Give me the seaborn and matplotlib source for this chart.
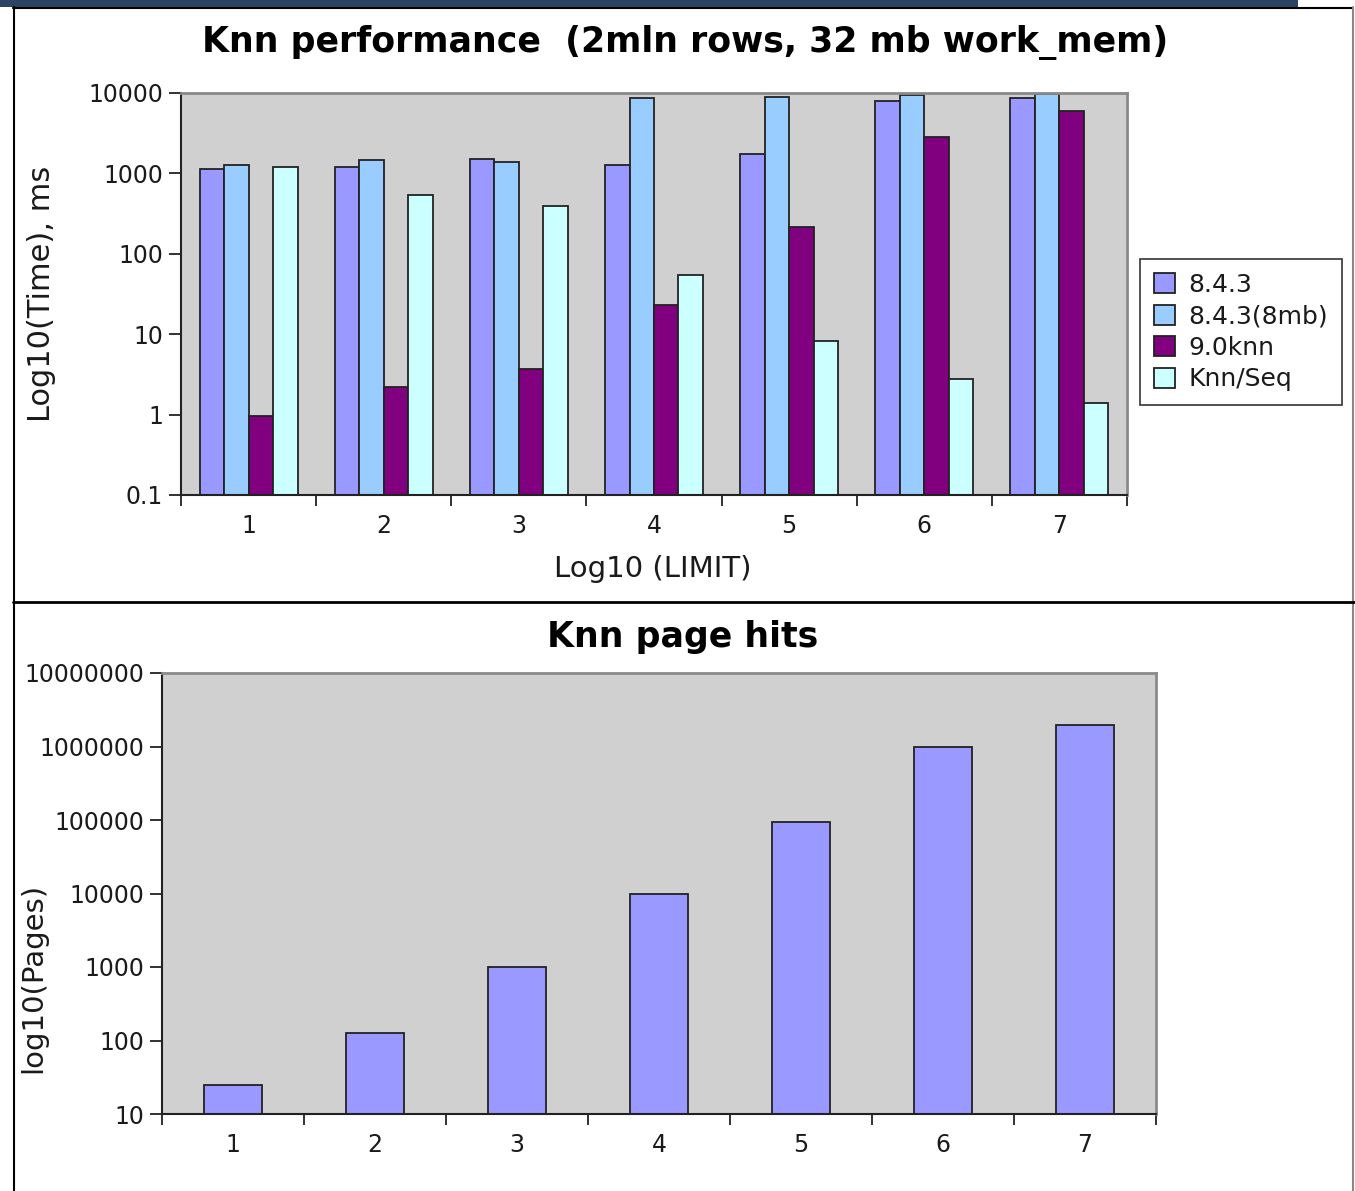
import matplotlib
matplotlib.use("Agg")
import matplotlib.pyplot as plt
import matplotlib.ticker as mticker
from matplotlib.lines import Line2D
from matplotlib.patches import Rectangle
import seaborn as sns
import pandas as pd

# ---------------- data ----------------
limits = ["1", "2", "3", "4", "5", "6", "7"]
v843 = [1135, 1190, 1520, 1290, 1730, 7900, 8600]
v843_8mb = [1280, 1460, 1380, 8700, 9000, 9400, 9800]
v90knn = [0.96, 2.2, 3.7, 23, 214, 2840, 5970]
knn_seq = [1190, 545, 395, 54, 8.2, 2.8, 1.38]
series_names = ["8.4.3", "8.4.3(8mb)", "9.0knn", "Knn/Seq"]
page_hits = [25, 126, 1000, 10000, 95000, 1000000, 1980000]

top_yticks = [0.1, 1, 10, 100, 1000, 10000]
top_ylabels = ["0.1", "1", "10", "100", "1000", "10000"]
bot_yticks = [10, 100, 1000, 10000, 100000, 1000000, 10000000]
bot_ylabels = ["10", "100", "1000", "10000", "100000", "1000000", "10000000"]

colors = ["#9999ff", "#99ccff", "#800080", "#ccffff"]

rows = []
for name, vals in zip(series_names, [v843, v843_8mb, v90knn, knn_seq]):
    for lim, v in zip(limits, vals):
        rows.append({"limit": lim, "series": name, "time": v})
df_top = pd.DataFrame(rows)
df_bot = pd.DataFrame({"limit": limits, "pages": page_hits})

# ---------------- figure ----------------
sns.set_style("white")
plt.rcParams["font.family"] = ["DejaVu Sans"]

W, H = 1355, 1191
fig = plt.figure(figsize=(W / 100, H / 100), dpi=100)

def px_axes(x0, y0, x1, y1):
    return fig.add_axes([x0 / W, 1 - y1 / H, (x1 - x0) / W, (y1 - y0) / H])

bg = "#d0d0d0"
txt = "#1a1a1a"

def style_axes(ax, ncat):
    ax.set_facecolor(bg)
    for s in ["left", "bottom"]:
        ax.spines[s].set_color("#222222")
        ax.spines[s].set_linewidth(1.5)
    for s in ["top", "right"]:
        ax.spines[s].set_color("#8a8a8a")
        ax.spines[s].set_linewidth(2)
        ax.spines[s].set_visible(True)
    ax.set_xlim(-0.5, ncat - 0.5)
    ax.xaxis.set_major_locator(mticker.FixedLocator([i - 0.5 for i in range(ncat + 1)]))
    ax.xaxis.set_major_formatter(mticker.NullFormatter())
    ax.xaxis.set_minor_locator(mticker.FixedLocator(list(range(ncat))))
    ax.xaxis.set_minor_formatter(mticker.FixedFormatter(limits))
    ax.tick_params(axis="x", which="major", direction="out", length=8, width=1.3,
                   color="#222222", bottom=True)
    ax.tick_params(axis="x", which="minor", length=0, labelsize=17, pad=14,
                   labelcolor=txt)
    ax.tick_params(axis="y", which="major", direction="out", length=9, width=1.3,
                   color="#222222", left=True, labelsize=17, labelcolor=txt, pad=4)
    ax.tick_params(axis="y", which="minor", left=False)
    ax.set_xlabel("")
    ax.set_ylabel("")

# ---- top chart ----
ax1 = px_axes(181, 93, 1127, 495)
ax1.set_yscale("log")
sns.barplot(data=df_top, x="limit", y="time", hue="series", palette=colors,
            hue_order=series_names, order=limits, width=0.725, ax=ax1,
            edgecolor="#222222", linewidth=1.3, saturation=1, errorbar=None)
ax1.set_ylim(0.1, 10000)
ax1.yaxis.set_major_locator(mticker.FixedLocator(top_yticks))
ax1.yaxis.set_major_formatter(mticker.FixedFormatter(top_ylabels))
style_axes(ax1, len(limits))

leg = ax1.legend(loc="upper left", bbox_to_anchor=(1140 / W, 1 - 259 / H),
                 bbox_transform=fig.transFigure, borderaxespad=0, fontsize=18,
                 frameon=True, fancybox=False, edgecolor="black",
                 handlelength=0.85, handleheight=0.85, handletextpad=0.55,
                 labelspacing=0.3, borderpad=0.55)
leg.get_frame().set_linewidth(1.2)
for t in leg.get_texts():
    t.set_color(txt)

fig.text(685 / W, 1 - 43 / H, "Knn performance  (2mln rows, 32 mb work_mem)",
         ha="center", va="center", fontsize=25, fontweight="bold", color="black")
fig.text(653 / W, 1 - 569 / H, "Log10 (LIMIT)", ha="center", va="center",
         fontsize=21, color=txt)
fig.text(42 / W, 1 - 294 / H, "Log10(Time), ms", ha="center", va="center",
         fontsize=22, rotation=90, color=txt)

# ---- bottom chart ----
ax2 = px_axes(162, 673, 1156, 1114)
ax2.set_yscale("log")
sns.barplot(data=df_bot, x="limit", y="pages", order=limits, color="#9999ff",
            width=0.405, ax=ax2, edgecolor="#222222", linewidth=1.3,
            saturation=1, errorbar=None)
ax2.set_ylim(10, 10000000)
ax2.yaxis.set_major_locator(mticker.FixedLocator(bot_yticks))
ax2.yaxis.set_major_formatter(mticker.FixedFormatter(bot_ylabels))
style_axes(ax2, len(limits))

fig.text(683 / W, 1 - 637 / H, "Knn page hits", ha="center", va="center",
         fontsize=25, fontweight="bold", color="black")
fig.text(33 / W, 1 - 978 / H, "log10(Pages)", ha="center", va="center",
         fontsize=21, rotation=90, color=txt)

# ---- frame decorations ----
fig.add_artist(Rectangle((0, 1 - 7 / H), 1298 / W, 7 / H, transform=fig.transFigure,
                         facecolor="#2b4465", edgecolor="none"))
fig.add_artist(Line2D([13 / W, 1353 / W], [1 - 7.5 / H, 1 - 7.5 / H],
                      transform=fig.transFigure, color="black", lw=1.5))
fig.add_artist(Line2D([13.5 / W, 13.5 / W], [0, 1 - 7 / H],
                      transform=fig.transFigure, color="black", lw=1.5))
fig.add_artist(Line2D([1353 / W, 1353 / W], [0, 1 - 7 / H],
                      transform=fig.transFigure, color="#888888", lw=1.5))
fig.add_artist(Line2D([13 / W, 1], [1 - 602 / H, 1 - 602 / H],
                      transform=fig.transFigure, color="black", lw=2))

fig.savefig("out.png", dpi=100)
